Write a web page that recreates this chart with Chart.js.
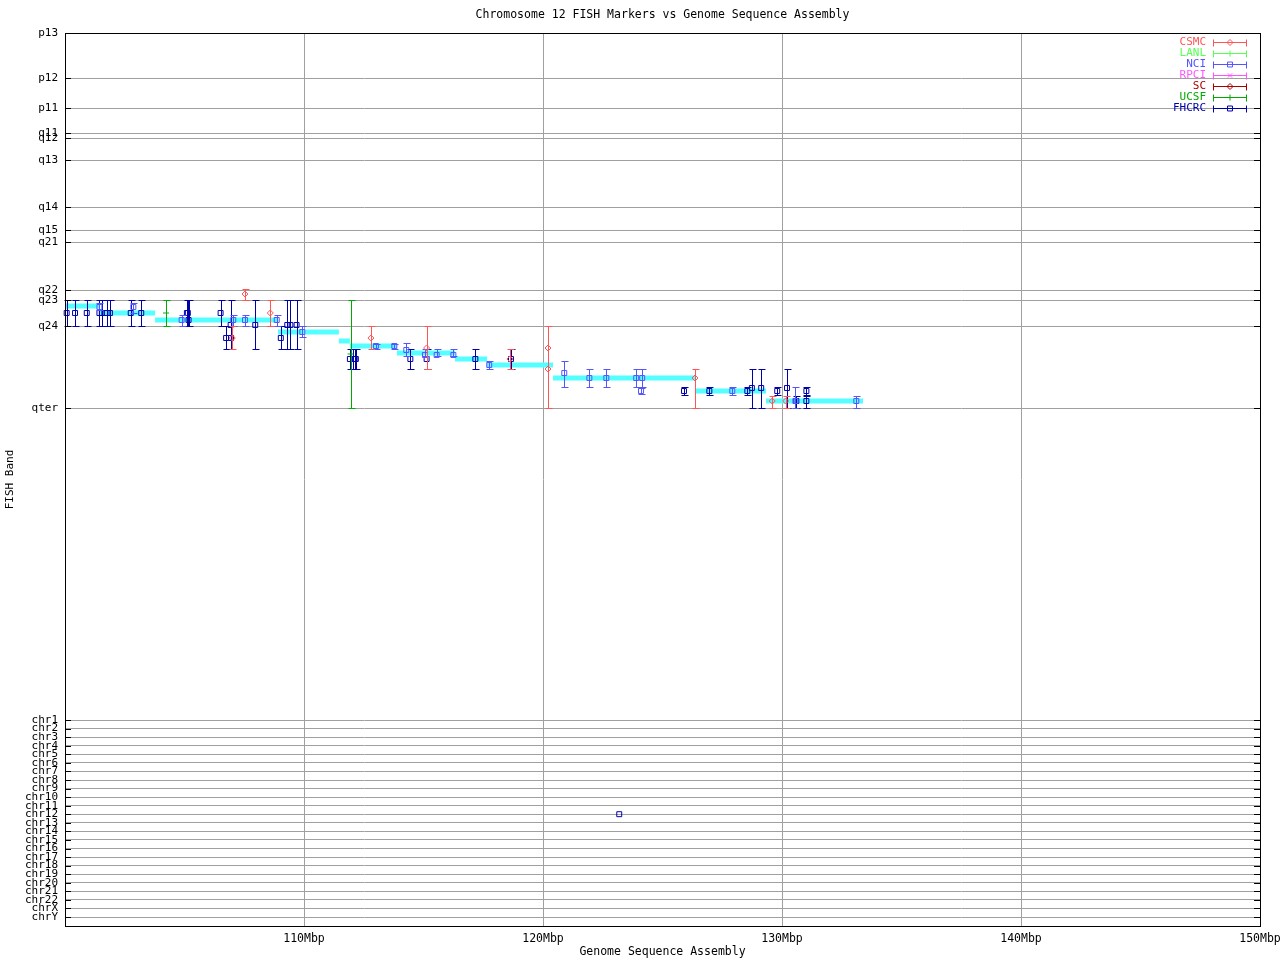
<!DOCTYPE html>
<html>
<head>
<meta charset="utf-8">
<title>Chromosome 12 FISH Markers vs Genome Sequence Assembly</title>
<script src="https://cdn.jsdelivr.net/npm/chart.js@4/dist/chart.umd.min.js"></script>
<style>
  html, body { margin: 0; padding: 0; background: #fff; }
</style>
</head>
<body>
<canvas id="fishChart" width="1280" height="960"></canvas>
<script>
/* Datos del gráfico */
// Bandas del cromosoma 12 (eje Y, en unidades de banda)
const bandLabels = ["p13", "p12", "p11", "q11", "q12", "q13", "q14", "q15", "q21", "q22", "q23", "q24", "qter"];
const bandValues = [0, 45, 75, 100, 105, 127, 174, 197, 209, 257, 267, 293, 375];

// Cromosomas (parte baja del eje Y)
const chrLabels = ["chr1", "chr2", "chr3", "chr4", "chr5", "chr6", "chr7", "chr8", "chr9", "chr10", "chr11", "chr12",
  "chr13", "chr14", "chr15", "chr16", "chr17", "chr18", "chr19", "chr20", "chr21", "chr22", "chrX", "chrY"];
const chrValues = [687, 695.6, 704.1, 712.7, 721.3, 729.8, 738.4, 747, 755.5, 764.1, 772.7, 781.2,
  789.8, 798.3, 806.9, 815.5, 824, 832.6, 841.2, 849.7, 858.3, 866.9, 875.4, 884];

// Eje X en Mbp
const xTickValues = [110, 120, 130, 140, 150];

// Ensamblaje de secuencia: inicio, fin (Mbp) y banda
const asmStart = [99.9, 101.46, 103.77, 108.91, 111.46, 111.92, 113.89, 116.32, 117.66, 120.42, 126.4, 129.33];
const asmEnd = [101.46, 103.77, 108.91, 111.46, 111.92, 113.89, 116.32, 117.66, 120.42, 126.4, 129.33, 133.39];
const asmBand = [273, 280, 287, 299, 308, 313, 320, 326, 332, 345, 358, 368];

// Marcadores FISH por laboratorio: [Mbp, banda, banda mínima, banda máxima]
const csmcPts = [
  [107.53, 261, 256, 267], [107.0, 305, 293, 316], [108.59, 280, 267, 293], [112.8, 305, 293, 316],
  [115.13, 315, 293, 336], [118.62, 326, 316, 336], [120.21, 315, 293, 375], [120.21, 336, 336, 336],
  [126.36, 345, 336, 375], [129.59, 368, 363, 375], [130.15, 368, 363, 375]
];
const lanlPts = [];
const nciPts = [
  [101.44, 274, 270, 277], [102.86, 274, 270, 280], [104.88, 287, 282, 293], [107.04, 287, 282, 293],
  [107.53, 287, 282, 293], [108.86, 287, 282, 293], [109.93, 299, 293, 304], [113.01, 313, 311, 316],
  [113.78, 313, 311, 316], [114.28, 317, 310, 323], [115.06, 322, 316, 323], [115.55, 322, 316, 323],
  [116.25, 322, 316, 323], [117.75, 332, 328, 336], [120.89, 340, 328, 354], [121.94, 345, 336, 354],
  [122.65, 345, 336, 354], [123.9, 345, 336, 354], [124.15, 345, 336, 354], [124.1, 358, 355, 361],
  [127.92, 358, 354, 362], [130.56, 368, 354, 375], [133.11, 368, 363, 375]
];
const rpciPts = [];
const scPts = [];
const ucsfPts = [[104.23, 280, 267, 293], [111.95, 321, 267, 375]];
const fhcrcPts = [
  [100.07, 280, 267, 293], [100.42, 280, 267, 293], [100.91, 280, 267, 293], [101.44, 280, 267, 293],
  [101.54, 280, 267, 293], [101.74, 280, 267, 293], [101.88, 280, 267, 293], [102.75, 280, 267, 293],
  [103.19, 280, 267, 293], [105.1, 280, 267, 293], [105.14, 280, 267, 293], [105.17, 287, 267, 293],
  [106.51, 280, 267, 293], [106.74, 305, 293, 316], [106.93, 292, 267, 316], [106.95, 305, 293, 316],
  [107.96, 292, 267, 316], [109.03, 305, 293, 316], [109.3, 292, 267, 316], [109.43, 292, 267, 316],
  [109.69, 292, 267, 316], [111.92, 326, 316, 336], [112.07, 326, 316, 336], [112.12, 326, 316, 336],
  [112.17, 326, 316, 336], [114.45, 326, 316, 336], [115.13, 326, 316, 336], [117.17, 326, 316, 336],
  [118.66, 326, 316, 336], [125.9, 358, 354, 362], [126.96, 358, 354, 362], [128.55, 358, 354, 362],
  [128.74, 355, 336, 375], [129.13, 355, 336, 375], [129.8, 358, 354, 362], [130.21, 355, 336, 375],
  [130.6, 368, 363, 375], [131.02, 358, 354, 362], [131.02, 368, 363, 375], [123.19, 781.2, 781.2, 781.2]
];

/* Estilos */
const monoFont = "'DejaVu Sans Mono', monospace";
const gridGrey = "#a0a0a0";

const sources = [
  { label: "CSMC", color: "#ff5555", style: "rectRot", radius: 3, pts: csmcPts },
  { label: "LANL", color: "#55ff55", style: "line", radius: 3, pts: lanlPts },
  { label: "NCI", color: "#5555ff", style: "rect", radius: 3.5, pts: nciPts },
  { label: "RPCI", color: "#ff55ff", style: "crossRot", radius: 3, pts: rpciPts },
  { label: "SC", color: "#aa0000", style: "rectRot", radius: 3, pts: scPts },
  { label: "UCSF", color: "#00aa00", style: "line", radius: 3, pts: ucsfPts },
  { label: "FHCRC", color: "#0000aa", style: "rect", radius: 3.5, pts: fhcrcPts }
];

const yTickValues = bandValues.concat(chrValues);
const yTickLabels = bandLabels.concat(chrLabels);

// Segmentos del ensamblaje, separados con y = null
const asmData = [];
for (let i = 0; i < asmStart.length; i++) {
  asmData.push({ x: asmStart[i], y: asmBand[i] });
  asmData.push({ x: asmEnd[i], y: asmBand[i] });
  asmData.push({ x: asmEnd[i], y: null });
}

const datasets = sources.map(s => ({
  label: s.label,
  data: s.pts.map(([x, y, lo, hi]) => ({ x: x, y: y, lo: lo, hi: hi })),
  borderColor: s.color,
  backgroundColor: "rgba(0,0,0,0)",
  pointStyle: s.style,
  pointRadius: s.radius,
  pointBorderWidth: 1,
  errorBars: true,
  clip: false
}));
datasets.push({
  type: "line",
  label: "Assembly",
  data: asmData,
  borderColor: "#55ffff",
  borderWidth: 5,
  borderCapStyle: "butt",
  pointRadius: 0,
  spanGaps: false,
  fill: false
});

/* Barras de error */
const errorBarsPlugin = {
  id: "errorBars",
  afterDatasetDraw(chart, args) {
    const ds = chart.data.datasets[args.index];
    if (!ds.errorBars) return;
    const ctx = chart.ctx;
    const yScale = chart.scales.y;
    ctx.save();
    ctx.strokeStyle = ds.borderColor;
    ctx.lineWidth = 1;
    args.meta.data.forEach((pt, i) => {
      const raw = ds.data[i];
      if (raw.lo === raw.hi) return;
      const x = Math.round(pt.x) + 0.5;
      const top = Math.round(yScale.getPixelForValue(raw.lo)) + 0.5;
      const bot = Math.round(yScale.getPixelForValue(raw.hi)) + 0.5;
      ctx.beginPath();
      ctx.moveTo(x, top);
      ctx.lineTo(x, bot);
      ctx.moveTo(x - 3, top);
      ctx.lineTo(x + 4, top);
      ctx.moveTo(x - 3, bot);
      ctx.lineTo(x + 4, bot);
      ctx.stroke();
    });
    ctx.restore();
  }
};

/* Marco, marcas internas y leyenda */
const framePlugin = {
  id: "frame",
  afterDraw(chart) {
    const ctx = chart.ctx;
    const a = chart.chartArea;
    const yScale = chart.scales.y;
    ctx.save();
    ctx.strokeStyle = "#000";
    ctx.lineWidth = 1;
    ctx.strokeRect(Math.round(a.left) + 0.5, Math.round(a.top) + 0.5,
      Math.round(a.right - a.left), Math.round(a.bottom - a.top));
    ctx.beginPath();
    yTickValues.forEach(v => {
      const y = Math.round(yScale.getPixelForValue(v)) + 0.5;
      ctx.moveTo(a.left, y);
      ctx.lineTo(a.left + 6, y);
      ctx.moveTo(a.right - 6, y);
      ctx.lineTo(a.right, y);
    });
    ctx.stroke();

    // Leyenda
    ctx.font = "11px " + monoFont;
    ctx.textAlign = "right";
    ctx.textBaseline = "middle";
    sources.forEach((s, i) => {
      const y = 42.5 + i * 11;
      ctx.fillStyle = s.color;
      ctx.fillText(s.label, 1206, y);
      ctx.strokeStyle = s.color;
      ctx.beginPath();
      ctx.moveTo(1213, y);
      ctx.lineTo(1247, y);
      ctx.moveTo(1213.5, y - 3);
      ctx.lineTo(1213.5, y + 4);
      ctx.moveTo(1246.5, y - 3);
      ctx.lineTo(1246.5, y + 4);
      ctx.stroke();
      ctx.fillStyle = "rgba(0,0,0,0)";
      Chart.helpers.drawPoint(ctx, {
        pointStyle: s.style,
        radius: s.radius,
        rotation: s.style === "line" ? 90 : 0,
        borderWidth: 1
      }, 1230, y);
    });
    ctx.restore();
  }
};

const chartCanvas = document.getElementById("fishChart").getContext("2d");

new Chart(chartCanvas, {
  type: "scatter",
  data: { datasets: datasets },
  options: {
    responsive: false,
    animation: false,
    events: [],
    layout: { padding: { left: 0, right: 20, top: 0, bottom: 0 } },
    plugins: {
      legend: { display: false },
      tooltip: { enabled: false },
      title: {
        display: true,
        fullSize: false,
        text: "Chromosome 12 FISH Markers vs Genome Sequence Assembly",
        color: "#000",
        font: { family: monoFont, size: 11.5, weight: "normal", lineHeight: "13px" },
        padding: { top: 9, bottom: 11 }
      }
    },
    scales: {
      x: {
        type: "linear",
        min: 100,
        max: 150,
        afterBuildTicks: scale => { scale.ticks = xTickValues.map(v => ({ value: v })); },
        afterFit: scale => {
          scale.height = 34;
          scale.paddingLeft = 0;
          scale.paddingRight = 0;
        },
        grid: { color: gridGrey, drawTicks: false },
        border: { color: "#000" },
        ticks: {
          padding: 6,
          color: "#000",
          maxRotation: 0,
          autoSkip: false,
          font: { family: monoFont, size: 11.5 },
          callback: v => v + "Mbp"
        },
        title: {
          display: true,
          text: "Genome Sequence Assembly",
          color: "#000",
          font: { family: monoFont, size: 11.5, lineHeight: "13px" },
          padding: { top: 0, bottom: 1 }
        }
      },
      y: {
        type: "linear",
        reverse: true,
        min: 0,
        max: 893,
        afterBuildTicks: scale => { scale.ticks = yTickValues.map(v => ({ value: v })); },
        afterFit: scale => {
          scale.width = 65;
          scale.paddingTop = 0;
          scale.paddingBottom = 0;
        },
        grid: { color: gridGrey, drawTicks: false },
        border: { color: "#000" },
        ticks: {
          padding: 7,
          color: "#000",
          autoSkip: false,
          font: { family: monoFont, size: 11 },
          callback: (v, i) => yTickLabels[i]
        },
        title: {
          display: true,
          text: "FISH Band",
          color: "#000",
          font: { family: monoFont, size: 11, lineHeight: "13px" },
          padding: { top: 4, bottom: 0 }
        }
      }
    }
  },
  plugins: [errorBarsPlugin, framePlugin]
});
</script>
</body>
</html>
